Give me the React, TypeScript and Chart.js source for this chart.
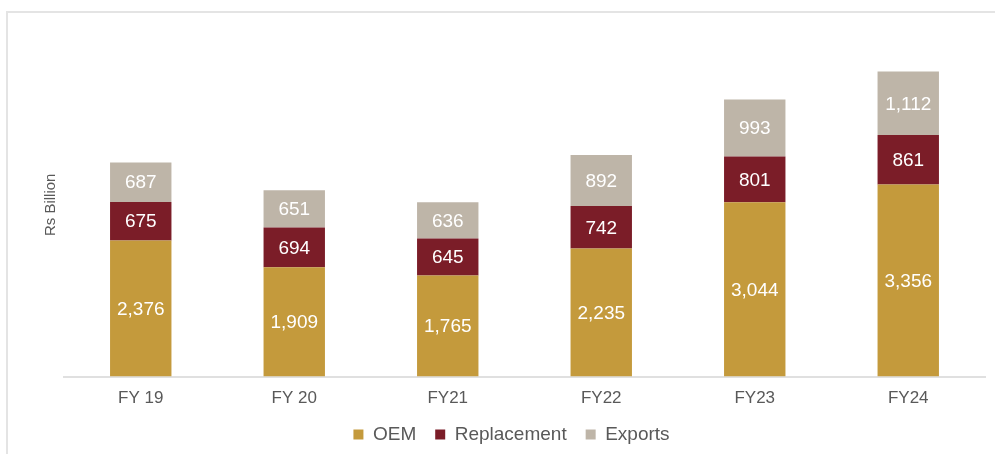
import React, { useEffect, useRef } from "react";
import { Chart, registerables } from "chart.js";

Chart.register(...registerables);

const categories = ["FY 19", "FY 20", "FY21", "FY22", "FY23", "FY24"];
const oem = [2376, 1909, 1765, 2235, 3044, 3356];
const replacement = [675, 694, 645, 742, 801, 861];
const exportsData = [687, 651, 636, 892, 993, 1112];
const seriesNames = ["OEM", "Replacement", "Exports"];
const yAxisTitle = "Rs Billion";

const FONT = "'Liberation Sans', Arial, sans-serif";

const framePlugin = {
  id: "frame",
  beforeDraw(chart: any) {
    const ctx = chart.ctx;
    ctx.save();
    ctx.strokeStyle = "#E4E4E4";
    ctx.lineWidth = 2;
    ctx.beginPath();
    ctx.moveTo(7, chart.height);
    ctx.lineTo(7, 12);
    ctx.lineTo(chart.width, 12);
    ctx.stroke();
    ctx.restore();
  },
};

const labelPlugin = {
  id: "segLabels",
  afterDatasetsDraw(chart: any) {
    const ctx = chart.ctx;
    ctx.save();
    ctx.fillStyle = "#FFFFFF";
    ctx.font = `19px ${FONT}`;
    ctx.textAlign = "center";
    ctx.textBaseline = "middle";
    chart.data.datasets.forEach((ds: any, di: number) => {
      const meta = chart.getDatasetMeta(di);
      meta.data.forEach((bar: any, i: number) => {
        const v = ds.data[i];
        const y = (bar.y + bar.base) / 2;
        ctx.fillText(v.toLocaleString("en-US"), bar.x, y + 1);
      });
    });
    ctx.restore();
  },
};

export default function App() {
  const ref = useRef<HTMLCanvasElement>(null);
  useEffect(() => {
    if (!ref.current) return;
    const chart = new Chart(ref.current, {
      type: "bar",
      data: {
        labels: categories,
        datasets: [
          { label: seriesNames[0], data: oem, backgroundColor: "#C49A3C" },
          { label: seriesNames[1], data: replacement, backgroundColor: "#7B1D28" },
          { label: seriesNames[2], data: exportsData, backgroundColor: "#BEB5A8" },
        ],
      },
      options: {
        animation: false,
        responsive: true,
        maintainAspectRatio: false,
        layout: { padding: { top: 33, left: 38, right: 10, bottom: 0 } },
        datasets: { bar: { categoryPercentage: 1, barPercentage: 0.4 } },
        scales: {
          x: {
            stacked: true,
            grid: { display: false, drawTicks: false },
            border: { display: true, color: "#E0E0E0", width: 2 },
            ticks: { color: "#595959", font: { family: FONT, size: 17 }, padding: 12 },
            afterFit: (scale: any) => {
              scale.height = scale.height - 15;
            },
          },
          y: {
            stacked: true,
            min: 0,
            max: 6000,
            grid: { display: false, drawTicks: false },
            border: { display: false },
            ticks: { display: false },
            title: {
              display: true,
              text: yAxisTitle,
              color: "#595959",
              font: { family: FONT, size: 15 },
              padding: { top: 4, bottom: 4 },
            },
          },
        },
        plugins: {
          legend: {
            position: "bottom",
            labels: {
              boxWidth: 10,
              boxHeight: 10,
              padding: 19,
              color: "#595959",
              font: { family: FONT, size: 19 },
            },
          },
          tooltip: { enabled: false },
        },
      },
      plugins: [framePlugin, labelPlugin],
    });
    return () => chart.destroy();
  }, []);
  return (
    <div style={{ position: "absolute", left: 0, top: 0, width: 995, height: 454 }}>
      <canvas ref={ref} />
    </div>
  );
}
